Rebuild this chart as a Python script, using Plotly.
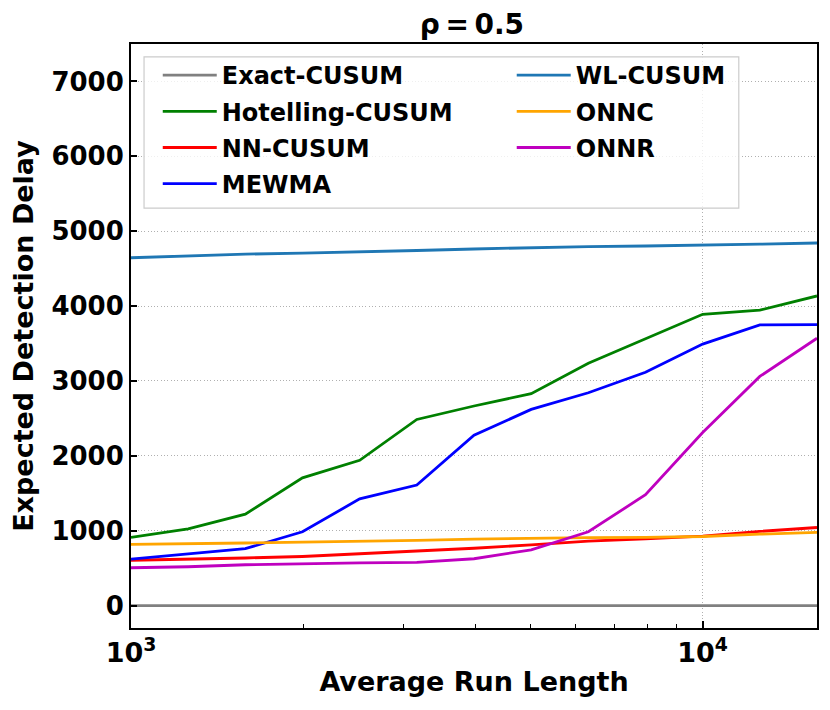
import plotly.graph_objects as go

# valores (rho = 0.5)
arl = [1000, 1259, 1585, 1995, 2512, 3162, 3981, 5012, 6310, 7943, 10000, 12589, 15849]

exact_cusum = [0, 0, 0, 0, 0, 0, 0, 0, 0, 0, 0, 0, 0]
hotelling_cusum = [910, 1025, 1220, 1705, 1940, 2485, 2665, 2830, 3235, 3565, 3890, 3945, 4135]
nn_cusum = [605, 625, 635, 655, 690, 722, 765, 810, 860, 892, 928, 990, 1042]
mewma = [620, 688, 760, 985, 1425, 1610, 2275, 2620, 2842, 3115, 3492, 3748, 3752]
wl_cusum = [4645, 4672, 4693, 4708, 4722, 4742, 4762, 4782, 4795, 4802, 4812, 4826, 4842]
onnc = [818, 822, 835, 848, 857, 870, 887, 900, 906, 911, 922, 954, 978]
onnr = [505, 518, 545, 562, 570, 576, 625, 745, 985, 1480, 2310, 3060, 3570]

series = [
    ("Exact-CUSUM", exact_cusum, "#808080", "legend", 1),
    ("Hotelling-CUSUM", hotelling_cusum, "#008000", "legend", 2),
    ("NN-CUSUM", nn_cusum, "#ff0000", "legend", 3),
    ("MEWMA", mewma, "#0000ff", "legend", 4),
    ("WL-CUSUM", wl_cusum, "#1f77b4", "legend2", 5),
    ("ONNC", onnc, "#ffa500", "legend2", 6),
    ("ONNR", onnr, "#bf00bf", "legend2", 7),
]

x_tickvals = [1000, 10000]
x_ticktext = ["10<sup>3</sup>", "10<sup>4</sup>"]
y_tickvals = [0, 1000, 2000, 3000, 4000, 5000, 6000, 7000]

fuente = "DejaVu Sans"

fig = go.Figure()
for nombre, valores, color, leyenda, rango in series:
    fig.add_trace(go.Scatter(
        x=arl, y=valores, mode="lines", name=nombre,
        line=dict(color=color, width=2.8),
        legend=leyenda, legendrank=rango, legendgroup=nombre,
    ))

# recuadro de la leyenda (dos columnas)
fig.add_shape(
    type="rect", xref="paper", yref="paper",
    x0=0.019, x1=0.886, y0=0.719, y1=0.978,
    fillcolor="rgba(255,255,255,0.8)", line=dict(color="#cccccc", width=1.2),
    layer="above",
)

leyenda_base = dict(
    bgcolor="rgba(0,0,0,0)", borderwidth=0, xanchor="left", yanchor="top",
    font=dict(family=fuente, size=24, color="black", weight="bold"),
    itemwidth=54, tracegroupgap=2,
)

fig.update_layout(
    width=830, height=710,
    paper_bgcolor="white", plot_bgcolor="white",
    font=dict(family=fuente, size=26, color="black", weight="bold"),
    margin=dict(l=123, r=21, t=36, b=90, autoexpand=False),
    title=dict(text="ρ\u2009=\u20090.5", x=0.559, xanchor="center", y=0.9775, yanchor="middle",
               yref="container",
               font=dict(family=fuente, size=28, color="black", weight="bold")),
    legend=dict(leyenda_base, x=0.039, y=0.9846),
    legend2=dict(leyenda_base, x=0.555, y=0.9846),
    xaxis=dict(
        type="log", range=[3, 4.2], automargin=False,
        tickvals=x_tickvals, ticktext=x_ticktext,
        ticks="inside", ticklen=7, tickwidth=1.5, tickcolor="black",
        minor=dict(ticks="inside", ticklen=4, tickwidth=1, tickcolor="black",
                   dtick="D1", showgrid=False),
        showline=True, linecolor="black", linewidth=2, mirror=True,
        showgrid=True, gridcolor="#b0b0b0", griddash="1px,2.3px", gridwidth=1,
        zeroline=False,
        title=dict(text="Average Run Length", standoff=5,
                   font=dict(family=fuente, size=27, weight="bold")),
        tickfont=dict(family=fuente, size=27, weight="bold"),
    ),
    yaxis=dict(
        range=[-300, 7500], automargin=False,
        tickvals=y_tickvals,
        ticks="inside", ticklen=6, tickwidth=1.5, tickcolor="black",
        showline=True, linecolor="black", linewidth=2, mirror=True,
        showgrid=True, gridcolor="#b0b0b0", griddash="1px,2.3px", gridwidth=1,
        zeroline=False,
        title=dict(text="Expected Detection Delay", standoff=10,
                   font=dict(family=fuente, size=27, weight="bold")),
        tickfont=dict(family=fuente, size=26, weight="bold"),
    ),
    showlegend=True,
)

fig.write_html("out.html")
